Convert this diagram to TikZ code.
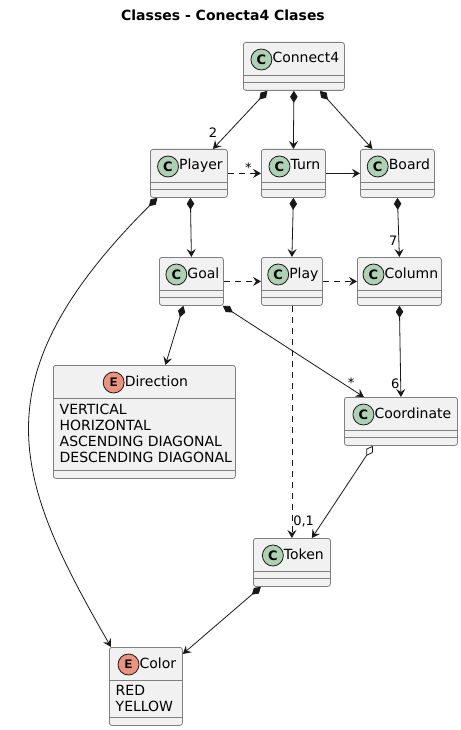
\documentclass[tikz,border=0pt]{standalone}
\usepackage{fontspec}
\setmainfont{DejaVu Sans}
\newfontfamily\iconfont{Liberation Mono}
\usepackage{tikz}
\usetikzlibrary{calc,arrows.meta}

\definecolor{boxfill}{HTML}{F1F1F1}
\definecolor{boxline}{HTML}{808080}
\definecolor{linecol}{HTML}{181818}
\definecolor{classicon}{HTML}{ADD1B2}
\definecolor{enumicon}{HTML}{EB937F}

% box of a class or enum: name, left, top, width, height,
% icon letter, icon colour, title
\newcommand{\umlbox}[8]{%
    \node[classframe, minimum width=#4, minimum height=#5, anchor=north west] (#1) at (#2,#3) {};
    \draw[sepline] ([yshift=-33pt]#1.north west) -- ([yshift=-33pt]#1.north east);
    \draw[sepline] ([yshift=8pt]#1.south west) -- ([yshift=8pt]#1.south east);
    \node[classname, label={[icon, fill=#7, name=#1-icon]left:{#6}}] (#1-title)
        at ([xshift=12pt, yshift=-17.5pt]#1.north) {#8};
}

\begin{document}
\begin{tikzpicture}[x=1pt, y=-1pt]

        % Looks of boxes, texts and connectors
        \tikzset{
            classframe/.style={draw=boxline, fill=boxfill, line width=0.8pt,
                rounded corners=2.5pt, inner sep=0pt},
            sepline/.style={draw=boxline, line width=0.8pt},
            classname/.style={inner sep=0pt, text height=10pt, text depth=3pt,
                label distance=3pt, font=\fontsize{14}{16}\selectfont},
            icon/.style={circle, draw=linecol, line width=0.8pt, minimum size=21pt,
                inner sep=0pt, font=\fontsize{13}{13}\selectfont\bfseries},
            items/.style={inner sep=0pt, align=left, font=\fontsize{14}{16}\selectfont},
            mult/.style={inner sep=1pt, font=\fontsize{13}{13}\selectfont},
            conn/.style={draw=linecol, line width=0.8pt},
            comp/.style={conn, {Diamond[length=12pt, width=7.5pt]}-{Stealth[length=8pt, width=9pt, inset=3pt]}},
            aggr/.style={conn, {Diamond[open, length=12pt, width=7.5pt]}-{Stealth[length=8pt, width=9pt, inset=3pt]}},
            uses/.style={conn, dash pattern=on 6pt off 5pt, -{Stealth[length=8pt, width=9pt, inset=3pt]}},
            assoc/.style={conn, -{Stealth[length=8pt, width=9pt, inset=3pt]}}
        }

        \useasboundingbox (0,0) rectangle (460,730);

        \node[font=\bfseries\fontsize{14}{16}\selectfont] (title) at (223,15) {Classes - Conecta4 Clases};

        % Classes, placed at their top left corners
        \umlbox{Connect}{243}{42}{101}{48}{C}{classicon}{Connect4}
        \umlbox{Player}{150}{149}{77}{48}{C}{classicon}{Player}
        \umlbox{Turn}{261}{149}{64}{48}{C}{classicon}{Turn}
        \umlbox{Board}{360}{149}{74}{48}{C}{classicon}{Board}
        \umlbox{Goal}{159}{257}{64}{48}{C}{classicon}{Goal}
        \umlbox{Play}{261}{257}{61}{48}{C}{classicon}{Play}
        \umlbox{Column}{357}{257}{84}{48}{C}{classicon}{Column}
        \umlbox{Coordinate}{344}{397}{113}{48}{C}{classicon}{Coordinate}
        \umlbox{Token}{253}{538}{77}{48}{C}{classicon}{Token}

        % Enums, with their values under the title
        \umlbox{Direction}{53}{365}{182}{113}{\iconfont E}{enumicon}{Direction}
        \node[items, anchor=north west] (Direction-items) at ([xshift=6.5pt, yshift=-38.5pt]Direction.north west)
            {VERTICAL\\HORIZONTAL\\ASCENDING DIAGONAL\\DESCENDING DIAGONAL};
        \umlbox{Color}{109}{647}{73}{78}{\iconfont E}{enumicon}{Color}
        \node[items, anchor=north west] (Color-items) at ([xshift=6.5pt, yshift=-38.5pt]Color.north west)
            {RED\\YELLOW};

        % Compositions, the diamond sits at the owner
        \draw[comp] ([xshift=-26.5pt]Connect.south) -- ([xshift=24pt]Player.north)
            node[mult, at end, above=10pt] {2};
        \draw[comp] (Connect.south) -- (Turn.north);
        \draw[comp] ([xshift=26pt]Connect.south) -- ([xshift=-25pt]Board.north);
        \draw[comp] ([xshift=1.5pt]Player.south) -- (Goal.north);
        \draw[comp] ([xshift=-31.5pt]Player.south) .. controls (-25,380) and (15,480) .. ([xshift=2pt]Color.north west);
        \draw[comp] (Turn.south) -- (Play.north);
        \draw[comp] (Board.south) -- (Column.north) node[mult, pos=0.72, left] {7};
        \draw[comp] ([xshift=-8pt]Goal.south) -- ([xshift=21pt]Direction.north);
        \draw[comp] ([xshift=-1pt]Goal.south east) -- ([xshift=-37pt]Coordinate.north)
            node[mult, pos=0.91, above] {*};
        \draw[comp] (Column.south) -- (Coordinate.north) node[mult, pos=0.85, left] {6};
        \draw[comp] ([xshift=-31pt]Token.south) -- ([yshift=-7pt]Color.north east);
        \draw[aggr] ([xshift=-28pt]Coordinate.south) -- ([xshift=20pt]Token.north);

        % Associations and dependencies
        \draw[assoc] (Turn.east) -- (Board.west);
        \draw[uses] (Player.east) -- (Turn.west) node[mult, pos=0.62, above] {*};
        \draw[uses] (Goal.east) -- (Play.west);
        \draw[uses] (Play.east) -- (Column.west);
        \draw[uses] (Play.south) -- (Token.north) node[mult, pos=0.93, right] {0,1};

\end{tikzpicture}
\end{document}
